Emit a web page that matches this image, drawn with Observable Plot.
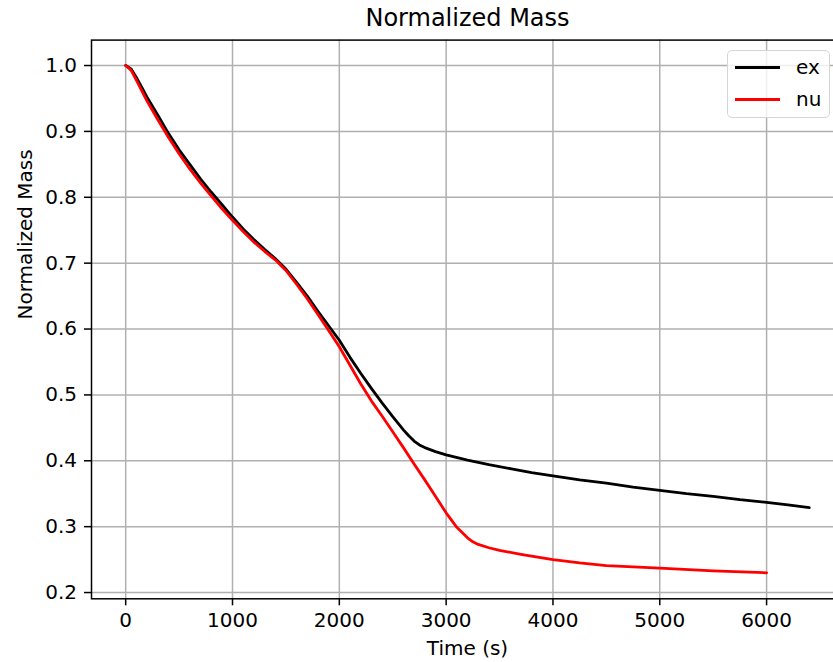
<!DOCTYPE html>
<html>
<head>
<meta charset="utf-8">
<script src="https://cdn.jsdelivr.net/npm/d3@7"></script>
<script src="https://cdn.jsdelivr.net/npm/@observablehq/plot@0.6"></script>
<style>
  html, body { margin: 0; padding: 0; background: #fff; }
  #wrap { position: relative; width: 833px; height: 662px; overflow: hidden; font-family: "DejaVu Sans", sans-serif; }
  #legend { position: absolute; left: 727px; top: 50px; width: 101px; height: 66px;
            border: 1.5px solid #d6d6d6; border-radius: 5px; background: rgba(255,255,255,0.8); }
  .item { position: absolute; left: 0; height: 30px; width: 100px; }
  .item .sw { position: absolute; left: 7px; width: 45px; height: 3px; }
  .item .lb { position: absolute; left: 68px; font-size: 20px; line-height: 20px; color: #000; }
</style>
</head>
<body>
<div id="wrap"><div id="chart"></div><div id="legend"></div></div>
<script>
// Series names and colours
const seriesNames = ["ex", "nu"];
const seriesColors = ["black", "red"];

// "ex" series (measured)
const exTime = [0, 50, 100, 150, 200, 300, 400, 500, 600, 700, 800, 900, 1000, 1100, 1200, 1300, 1400, 1500, 1600, 1700, 1800, 1900, 2000, 2100, 2200, 2300, 2400, 2500, 2600, 2650, 2700, 2750, 2800, 2900, 3000, 3200, 3400, 3600, 3800, 4000, 4250, 4500, 4750, 5000, 5250, 5500, 5750, 6000, 6200, 6400];
const exMass = [1.0, 0.995, 0.982, 0.967, 0.952, 0.925, 0.897, 0.872, 0.850, 0.828, 0.808, 0.789, 0.770, 0.752, 0.736, 0.721, 0.707, 0.691, 0.671, 0.650, 0.627, 0.605, 0.583, 0.557, 0.533, 0.510, 0.488, 0.467, 0.447, 0.438, 0.430, 0.424, 0.420, 0.414, 0.409, 0.401, 0.394, 0.388, 0.382, 0.377, 0.371, 0.366, 0.360, 0.355, 0.350, 0.346, 0.341, 0.337, 0.333, 0.329];

// "nu" series (numerical)
const nuTime = [0, 50, 100, 150, 200, 300, 400, 500, 600, 700, 800, 900, 1000, 1100, 1200, 1300, 1400, 1500, 1600, 1700, 1800, 1900, 2000, 2100, 2200, 2300, 2400, 2500, 2600, 2700, 2800, 2900, 3000, 3100, 3200, 3250, 3300, 3400, 3500, 3700, 4000, 4250, 4500, 4750, 5000, 5500, 6000];
const nuMass = [1.0, 0.993, 0.978, 0.962, 0.946, 0.918, 0.891, 0.866, 0.843, 0.822, 0.802, 0.783, 0.765, 0.748, 0.732, 0.718, 0.705, 0.689, 0.668, 0.646, 0.622, 0.598, 0.573, 0.545, 0.517, 0.491, 0.468, 0.444, 0.420, 0.395, 0.371, 0.346, 0.321, 0.299, 0.283, 0.277, 0.273, 0.268, 0.264, 0.258, 0.250, 0.245, 0.241, 0.239, 0.237, 0.233, 0.230];

// Tick values
const xTicks = [0, 1000, 2000, 3000, 4000, 5000, 6000];
const yTicks = [0.2, 0.3, 0.4, 0.5, 0.6, 0.7, 0.8, 0.9, 1.0];

const titleText = "Normalized Mass";
const xLabel = "Time (s)";
const yLabel = "Normalized Mass";

const ex = exTime.map((t, i) => ({t, v: exMass[i]}));
const nu = nuTime.map((t, i) => ({t, v: nuMass[i]}));

const chart = Plot.plot({
  width: 833,
  height: 662,
  marginLeft: 91,
  marginRight: -10,
  marginTop: 39.6,
  marginBottom: 63.7,
  style: {fontFamily: "DejaVu Sans, sans-serif", fontSize: "20px", color: "black", background: "white"},
  x: {domain: [-320, 6720]},
  y: {domain: [0.1905, 1.0386]},
  marks: [
    Plot.gridX(xTicks, {stroke: "#b0b0b0", strokeOpacity: 1, strokeWidth: 1.5}),
    Plot.gridY(yTicks, {stroke: "#b0b0b0", strokeOpacity: 1, strokeWidth: 1.5}),
    Plot.line(ex, {x: "t", y: "v", stroke: seriesColors[0], strokeWidth: 2.8}),
    Plot.line(nu, {x: "t", y: "v", stroke: seriesColors[1], strokeWidth: 2.8}),
    Plot.frame({stroke: "black", strokeWidth: 1.5}),
    Plot.axisX(xTicks, {tickSize: 7, tickPadding: 7, tickFormat: d3.format("d"), fontSize: 20, label: null, strokeWidth: 1.5}),
    Plot.axisY(yTicks, {tickSize: 7, tickPadding: 7.5, tickFormat: d3.format(".1f"), fontSize: 20, label: null, strokeWidth: 1.5}),
    Plot.text([titleText], {frameAnchor: "top", dy: -31, fontSize: 24}),
    Plot.text([xLabel], {frameAnchor: "bottom", dy: 56, fontSize: 20}),
    Plot.text([yLabel], {frameAnchor: "left", dx: -66, rotate: -90, fontSize: 20})
  ]
});
document.getElementById("chart").appendChild(chart);

const legend = document.getElementById("legend");
seriesNames.forEach((name, i) => {
  const item = document.createElement("div");
  item.className = "item";
  item.style.top = (4 + i * 31.5) + "px";
  const sw = document.createElement("div");
  sw.className = "sw";
  sw.style.background = seriesColors[i];
  sw.style.top = "11px";
  const lb = document.createElement("div");
  lb.className = "lb";
  lb.style.top = "2px";
  lb.textContent = name;
  item.appendChild(sw);
  item.appendChild(lb);
  legend.appendChild(item);
});
</script>
</body>
</html>
